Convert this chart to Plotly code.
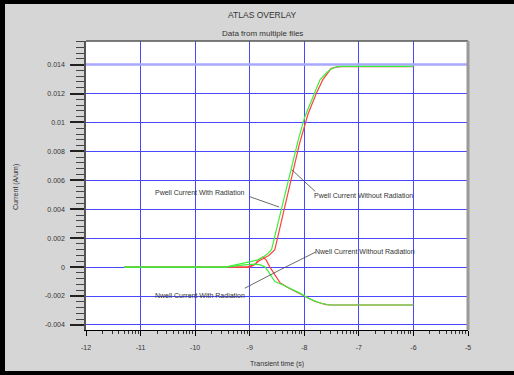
import math
import plotly.graph_objects as go

# ---------------- data ----------------
pwell_rad_x = [-11.3, -9.45, -9.2, -9.0, -8.85, -8.75, -8.68, -8.6, -8.11, -7.99, -7.83, -7.71, -7.6, -7.53, -7.44, -7.35, -6.0]
pwell_rad_y = [0.0, 0.0, 0.0002, 0.00035, 0.0005, 0.0007, 0.0009, 0.0012, 0.0088, 0.0104, 0.0119, 0.01296, 0.0134, 0.01365, 0.01381, 0.01387, 0.01387]

pwell_norad_x = [-11.3, -9.05, -8.9, -8.84, -8.75, -8.65, -8.54, -8.09, -7.93, -7.78, -7.66, -7.51, -7.39, -7.3, -6.0]
pwell_norad_y = [0.0, 0.0, 0.0002, 0.0004, 0.0006, 0.0008, 0.0012, 0.0085, 0.0106, 0.012, 0.01296, 0.01372, 0.01384, 0.01386, 0.01386]

nwell_rad_x = [-11.3, -9.45, -9.1, -8.9, -8.8, -8.72, -8.66, -8.54, -8.41, -8.25, -8.08, -7.9, -7.7, -7.53, -6.0]
nwell_rad_y = [0.0, 0.0, 0.00015, 0.0002, 0.00015, 0.0, -0.0003, -0.001, -0.0012, -0.0015, -0.0018, -0.0022, -0.0025, -0.00262, -0.00262]

nwell_norad_x = [-11.3, -9.0, -8.9, -8.84, -8.76, -8.7, -8.63, -8.5, -8.44, -8.26, -7.99, -7.8, -7.6, -7.5, -6.0]
nwell_norad_y = [0.0, 0.0, 0.0002, 0.0005, 0.0007, 0.0005, 0.0, -0.00078, -0.0011, -0.0015, -0.00204, -0.00238, -0.0026, -0.00262, -0.00262]

x_ticks = [-12, -11, -10, -9, -8, -7, -6, -5]
y_ticks = [-0.004, -0.002, 0, 0.002, 0.004, 0.006, 0.008, 0.01, 0.012, 0.014]
y_tick_text = ["-0.004", "-0.002", "0", "0.002", "0.004", "0.006", "0.008", "0.01", "0.012", "0.014"]

labels = ["Pwell Current With Radiation", "Pwell Current Without Radiation",
          "Nwell Current Without Radiation", "Nwell Current With Radiation"]
label_x = [-9.91, -6.91, -6.89, -9.91]
label_y = [0.00516, 0.00493, 0.00107, -0.00196]
# leader lines (start -> end) in data units
leader_x0 = [-8.995, -7.80, -7.785, -9.09]
leader_y0 = [0.00486, 0.00523, 0.00105, -0.00146]
leader_x1 = [-8.46, -8.23, -8.427, -8.427]
leader_y1 = [0.00415, 0.00673, -0.00016, -0.00016]

W, H = 514, 375
ML, MR, MT, MB = 86, 46, 41, 45
PW, PH = W - ML - MR, H - MT - MB


def px(x):
    return (x - ML) / PW


def py(y):
    return (H - MB - y) / PH


GREEN = "#3cf03c"
RED = "#ff4040"
TXT = "#333333"
FONT = "Liberation Sans, Arial, sans-serif"

fig = go.Figure()
for xs, ys, c in [(pwell_norad_x, pwell_norad_y, RED), (nwell_norad_x, nwell_norad_y, RED),
                  (pwell_rad_x, pwell_rad_y, GREEN), (nwell_rad_x, nwell_rad_y, GREEN)]:
    fig.add_trace(go.Scatter(x=xs, y=ys, mode="lines", line=dict(color=c, width=1.2),
                             showlegend=False, hoverinfo="skip"))

x_minor = [n + math.log10(k) for n in range(-12, -5) for k in range(2, 10)]
y_minor = [round(-0.0044 + 0.0004 * i, 5) for i in range(0, 52)]
y_minor = [v for v in y_minor if abs(round(v / 0.002) * 0.002 - v) > 1e-7 and v <= 0.0156]

shapes = []
# light blue band at 0.014
shapes.append(dict(type="line", xref="x", yref="y", x0=-12, x1=-5, y0=0.014, y1=0.014,
                   line=dict(color="#a8a8ff", width=2.5), layer="between"))
# leader lines
for a, b, c, d in zip(leader_x0, leader_y0, leader_x1, leader_y1):
    shapes.append(dict(type="line", xref="x", yref="y", x0=a, y0=b, x1=c, y1=d,
                       line=dict(color="#444444", width=0.8)))
# plot frame: top and right
shapes.append(dict(type="line", xref="paper", yref="paper", x0=0, x1=1, y0=1, y1=1,
                   line=dict(color="#555555", width=1.5)))
shapes.append(dict(type="line", xref="paper", yref="paper", x0=1, x1=1, y0=0, y1=1,
                   line=dict(color="#999999", width=3)))

annotations = []
for t, x, y in zip(labels, label_x, label_y):
    annotations.append(dict(x=x, y=y, xref="x", yref="y", text=t, showarrow=False,
                            xanchor="center", yanchor="middle",
                            font=dict(size=7, color=TXT, family=FONT)))


def paper_text(x, y, text, size, angle=0):
    annotations.append(dict(x=px(x), y=py(y), xref="paper", yref="paper", text=text,
                            textangle=angle, showarrow=False, xanchor="center", yanchor="middle",
                            font=dict(size=size, color=TXT, family=FONT)))


paper_text(262, 15, "ATLAS OVERLAY", 8.5)
paper_text(262, 33, "Data from multiple files", 8)
paper_text(277, 364, "Transient time (s)", 7)
paper_text(16, 187, "Current (A/um)", 7, -90)

fig.update_layout(
    width=W, height=H,
    margin=dict(l=ML, r=MR, t=MT, b=MB, pad=0),
    paper_bgcolor="#d6d6d6", plot_bgcolor="white",
    showlegend=False,
    shapes=shapes, annotations=annotations,
    font=dict(family=FONT, size=7, color=TXT),
    xaxis=dict(range=[-12, -5], tickvals=x_ticks, ticktext=[str(v) for v in x_ticks],
               showgrid=True, gridcolor="#4848ff", gridwidth=1, zeroline=False,
               showline=True, linecolor="black", linewidth=1,
               ticks="outside", ticklen=5, tickwidth=1, tickcolor="black",
               ticklabelstandoff=6,
               tickfont=dict(size=7, color=TXT, family=FONT),
               minor=dict(tickvals=x_minor, ticks="outside", ticklen=3, tickwidth=1,
                          tickcolor="#333333", showgrid=False)),
    yaxis=dict(range=[-0.00435, 0.01563], tickvals=y_ticks, ticktext=y_tick_text,
               showgrid=True, gridcolor="#4848ff", gridwidth=1, zeroline=False,
               showline=True, linecolor="#555555", linewidth=1.5,
               ticks="outside", ticklen=14, tickwidth=1.5, tickcolor="#222222",
               ticklabelstandoff=4,
               tickfont=dict(size=7, color=TXT, family=FONT),
               minor=dict(tickvals=y_minor, ticks="outside", ticklen=8, tickwidth=1.2,
                          tickcolor="#444444", showgrid=False)),
)

post = """
document.body.style.margin='0';
document.body.style.overflow='hidden';
function bar(l,t,w,h){var d=document.createElement('div');d.style.position='fixed';
d.style.left=l+'px';d.style.top=t+'px';d.style.width=w+'px';d.style.height=h+'px';
d.style.background='black';d.style.zIndex='1000';d.style.pointerEvents='none';document.body.appendChild(d);}
bar(0,0,5,375);bar(0,0,514,4);bar(0,371,514,4);
"""
fig.write_html("out.html", post_script=post, config={"displayModeBar": False})
